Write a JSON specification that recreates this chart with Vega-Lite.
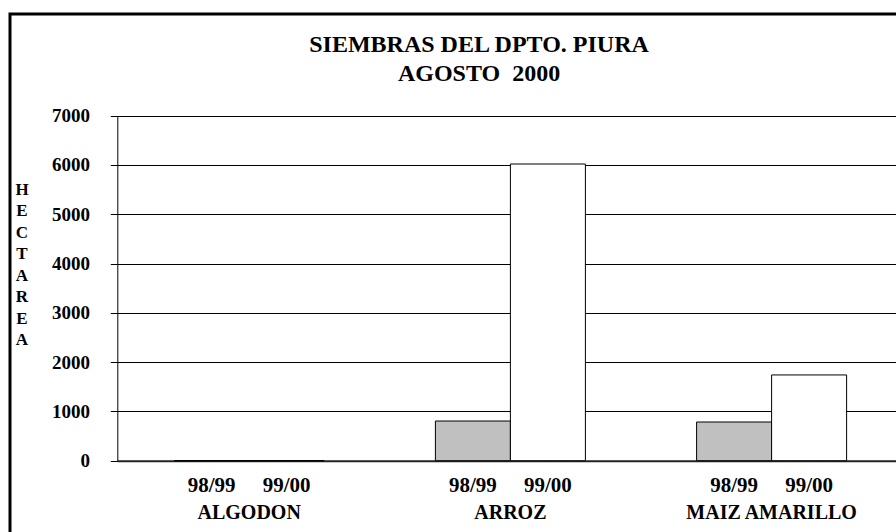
{
  "$schema": "https://vega.github.io/schema/vega-lite/v6.json",
  "width": 886,
  "height": 518,
  "autosize": {"type": "none"},
  "padding": {"left": 10, "top": 14, "right": 0, "bottom": 0},
  "background": "white",
  "config": {
    "font": "Liberation Serif",
    "view": {"stroke": "black", "strokeWidth": 3, "strokeDash": [886, 1404, 518]}
  },
  "title": {
    "text": ["SIEMBRAS DEL DPTO. PIURA", "AGOSTO\u00a0 2000"],
    "font": "Liberation Serif",
    "fontSize": 24,
    "fontWeight": "bold",
    "color": "black",
    "lineHeight": 29,
    "anchor": "middle",
    "frame": "group",
    "dx": 26,
    "offset": -95.5,
    "baseline": "bottom"
  },
  "data": {
    "values": [
      {"crop": "ALGODON", "period": "98/99", "hectareas": 0},
      {"crop": "ALGODON", "period": "99/00", "hectareas": 0},
      {"crop": "ARROZ", "period": "98/99", "hectareas": 805},
      {"crop": "ARROZ", "period": "99/00", "hectareas": 6020},
      {"crop": "MAIZ AMARILLO", "period": "98/99", "hectareas": 785},
      {"crop": "MAIZ AMARILLO", "period": "99/00", "hectareas": 1740}
    ]
  },
  "encoding": {
    "x": {
      "field": "crop",
      "type": "nominal",
      "sort": null,
      "scale": {"range": [107.3, 893.5], "paddingInner": 0.4257, "paddingOuter": 0.2178},
      "axis": {
        "title": null,
        "orient": "bottom",
        "offset": -71.3,
        "ticks": false,
        "tickSize": 0,
        "grid": false,
        "labelAngle": 0,
        "labelPadding": 57.6,
        "labelBaseline": "alphabetic",
        "labelFont": "Liberation Serif",
        "labelFontSize": 20,
        "labelFontWeight": "bold",
        "labelColor": "black",
        "domainColor": "#222222",
        "domainWidth": 2
      }
    },
    "xOffset": {
      "field": "period",
      "type": "nominal",
      "sort": ["98/99", "99/00"],
      "scale": {"paddingInner": 0, "paddingOuter": 0}
    }
  },
  "layer": [
    {
      "mark": {"type": "bar", "stroke": "black", "strokeWidth": 1},
      "encoding": {
        "y": {
          "field": "hectareas",
          "type": "quantitative",
          "scale": {"domain": [0, 7000], "range": [446.7, 101.7], "nice": false, "zero": true},
          "axis": {
            "title": ["H", "E", "C", "T", "A", "R", "E", "A"],
            "titleAngle": 0,
            "titleAlign": "center",
            "titleBaseline": "alphabetic",
            "titleX": -95.8,
            "titleY": 180.3,
            "titleFont": "Liberation Serif",
            "titleFontSize": 17,
            "titleFontWeight": "bold",
            "titleLineHeight": 21.5,
            "titleColor": "black",
            "offset": -107.3,
            "values": [0, 1000, 2000, 3000, 4000, 5000, 6000, 7000],
            "format": "d",
            "tickSize": 7,
            "tickColor": "black",
            "labelPadding": 20.7,
            "labelAlign": "right",
            "labelBaseline": "middle",
            "labelFont": "Liberation Serif",
            "labelFontSize": 19,
            "labelFontWeight": "bold",
            "labelColor": "black",
            "domainColor": "black",
            "domainWidth": 1,
            "grid": true,
            "gridColor": "black",
            "gridWidth": 1,
            "gridOpacity": 1
          }
        },
        "fill": {
          "field": "period",
          "type": "nominal",
          "scale": {"domain": ["98/99", "99/00"], "range": ["#c0c0c0", "#ffffff"]},
          "legend": null
        }
      }
    },
    {
      "mark": {
        "type": "text",
        "dy": 31,
        "baseline": "alphabetic",
        "align": "center",
        "font": "Liberation Serif",
        "fontSize": 21,
        "fontWeight": "bold",
        "color": "black"
      },
      "encoding": {
        "y": {"datum": 0, "type": "quantitative"},
        "text": {"field": "period", "type": "nominal"}
      }
    }
  ]
}
